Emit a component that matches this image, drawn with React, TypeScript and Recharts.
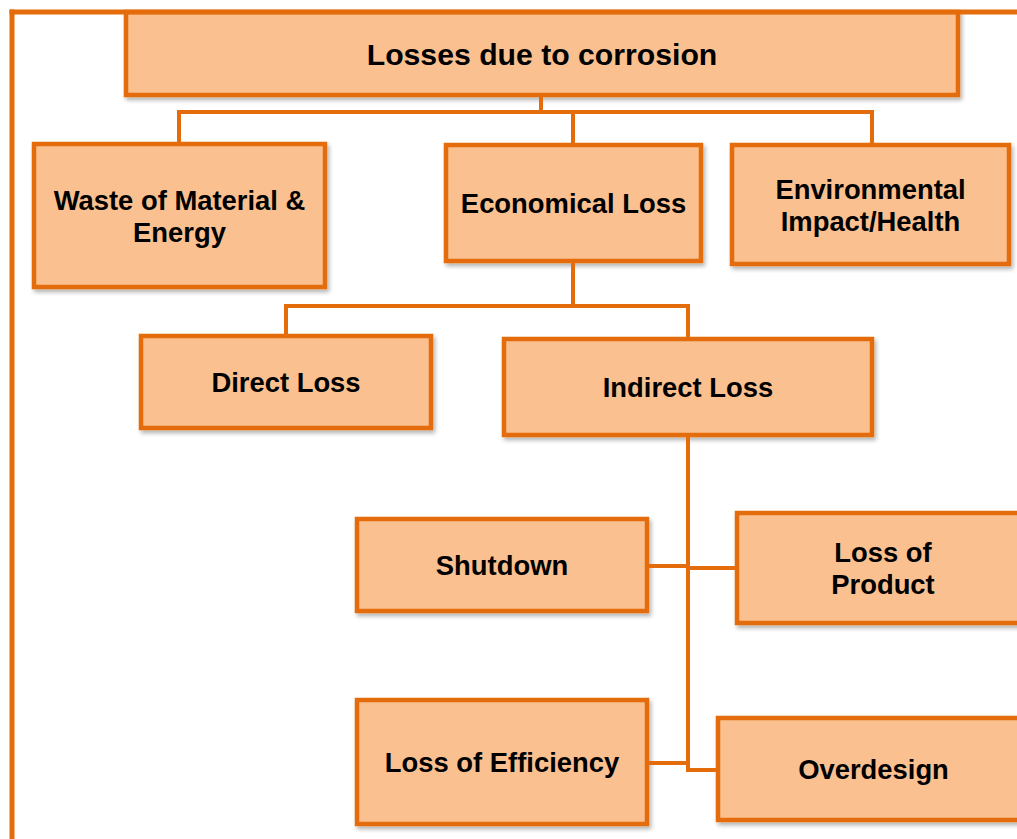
import React from "react";
import { ScatterChart, XAxis, YAxis, Scatter, ReferenceArea, ReferenceLine } from "recharts";

// Node labels (lines of text) of the tree
const nodeLabels: string[][] = [
  ["Losses due to corrosion"],
  ["Waste of Material &", "Energy"],
  ["Economical Loss"],
  ["Environmental", "Impact/Health"],
  ["Direct Loss"],
  ["Indirect Loss"],
  ["Shutdown"],
  ["Loss of", "Product"],
  ["Loss of Efficiency"],
  ["Overdesign"],
];
// Box extents in diagram units
const boxLeft = [126, 34, 446, 732, 141, 504, 357, 737, 357, 718];
const boxRight = [958, 325, 701, 1009, 431, 872, 647, 1029, 647, 1029];
const boxTop = [12, 144, 145, 145, 336, 339, 519, 513, 700, 718];
const boxBottom = [95, 287, 261, 264, 428, 435, 611, 623, 824, 820];

// Connector segments [x1, y1, x2, y2] in diagram units
const connectors: number[][] = [
  [541, 95, 541, 112],
  [179, 112, 872, 112],
  [179, 112, 179, 144],
  [573, 112, 573, 145],
  [872, 112, 872, 145],
  [573, 261, 573, 306],
  [286, 306, 688, 306],
  [286, 306, 286, 336],
  [688, 306, 688, 339],
  [688, 435, 688, 770],
  [647, 566, 688, 566],
  [688, 568, 737, 568],
  [647, 763, 688, 763],
  [688, 770, 718, 770],
];
// Outer frame segments
const frame: number[][] = [
  [12, 12, 1017, 12],
  [12, 12, 12, 839],
];

const W = 1017;
const H = 839;
const STROKE = "#E46C0A";
const FILL = "#FAC090";
const FONT = "'Liberation Sans', Arial, Helvetica, sans-serif";

const centers = nodeLabels.map((l, i) => ({
  x: (boxLeft[i] + boxRight[i]) / 2,
  y: (boxTop[i] + boxBottom[i]) / 2,
}));

const makeShape = (i: number) => (props: any) => {
  const { x, y, width, height } = props;
  const lines = nodeLabels[i];
  const fs = i === 0 ? 30.2 : 27.4;
  const lh = 32;
  const cx = x + width / 2;
  const cy = y + height / 2;
  const fid = `shadow${i}`;
  return (
    <g>
      <defs>
        <filter id={fid} x="-10%" y="-10%" width="130%" height="140%">
          <feGaussianBlur in="SourceAlpha" stdDeviation="2" />
          <feOffset dx="2" dy="3" result="ob" />
          <feComponentTransfer>
            <feFuncA type="linear" slope="0.3" />
          </feComponentTransfer>
          <feMerge>
            <feMergeNode />
            <feMergeNode in="SourceGraphic" />
          </feMerge>
        </filter>
      </defs>
      <rect
        x={x}
        y={y}
        width={width}
        height={height}
        fill={FILL}
        stroke={STROKE}
        strokeWidth={4.5}
        filter={`url(#${fid})`}
      />
      {lines.map((t, k) => (
        <text
          key={k}
          x={cx}
          y={cy + 0.5 + (k - (lines.length - 1) / 2) * lh}
          textAnchor="middle"
          dominantBaseline="central"
          fontFamily={FONT}
          fontWeight="bold"
          fontSize={fs}
          fill="#000"
        >
          {t}
        </text>
      ))}
    </g>
  );
};

export default function App() {
  return (
    <div style={{ position: "absolute", left: 0, top: 0, width: W, height: H, background: "#fff" }}>
      <ScatterChart width={W} height={H} margin={{ top: 0, right: 0, bottom: 0, left: 0 }}>
        <XAxis type="number" dataKey="x" domain={[0, W]} hide allowDataOverflow />
        <YAxis type="number" dataKey="y" domain={[0, H]} reversed hide allowDataOverflow />
        {frame.map((s, i) => (
          <ReferenceLine
            key={`f${i}`}
            segment={[{ x: s[0], y: s[1] }, { x: s[2], y: s[3] }]}
            stroke={STROKE}
            strokeWidth={5}
            strokeLinecap="square"
            ifOverflow="visible"
          />
        ))}
        {connectors.map((s, i) => (
          <ReferenceLine
            key={`c${i}`}
            segment={[{ x: s[0], y: s[1] }, { x: s[2], y: s[3] }]}
            stroke={STROKE}
            strokeWidth={4}
            strokeLinecap="square"
            ifOverflow="visible"
          />
        ))}
        {nodeLabels.map((_, i) => (
          <ReferenceArea
            key={`n${i}`}
            x1={boxLeft[i]}
            x2={boxRight[i]}
            y1={boxTop[i]}
            y2={boxBottom[i]}
            ifOverflow="visible"
            shape={makeShape(i)}
          />
        ))}
        <Scatter data={centers} isAnimationActive={false} shape={() => <g />} />
      </ScatterChart>
    </div>
  );
}
